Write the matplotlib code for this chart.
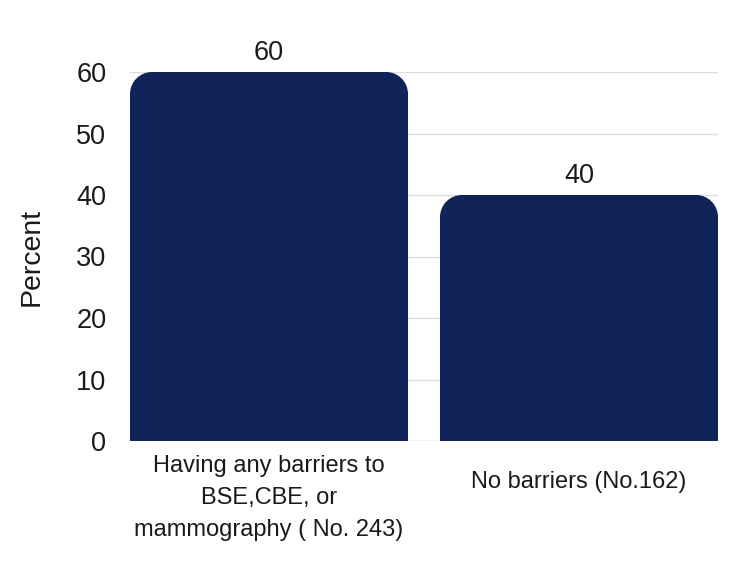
import matplotlib
matplotlib.use("Agg")
import matplotlib.pyplot as plt
from matplotlib.path import Path
from matplotlib.patches import PathPatch

categories = ["Having any barriers to\nBSE,CBE, or\nmammography ( No. 243)", "No barriers (No.162)"]
values = [60, 40]
yticks = [0, 10, 20, 30, 40, 50, 60]

plt.rcParams['font.family'] = ['Liberation Sans', 'DejaVu Sans']
color = '#10245a'
txt = '#1a1a1a'

fig = plt.figure(figsize=(7.5, 5.66), dpi=100)
ax = fig.add_axes([130/750, 1-441/566, (718-130)/750, (441-72)/566])
width = 278/310
ax.set_xlim(-width/2, len(values)-1+width/2)
ax.set_ylim(0, 60)

bars = ax.bar(range(len(values)), values, width=width, color=color, zorder=2)
fig.canvas.draw()
rpx = 22
(x0p, y0p), (x1p, y1p) = ax.transData.transform([(0, 0), (1, 1)])
rx = rpx / (x1p - x0p)
ry = rpx / (y1p - y0p)
k = 0.5523
for b in bars:
    x, y, w, h = b.get_x(), b.get_y(), b.get_width(), b.get_height()
    top = y + h
    verts = [(x, y), (x, top - ry),
             (x, top - ry + k*ry), (x + rx - k*rx, top), (x + rx, top),
             (x + w - rx, top),
             (x + w - rx + k*rx, top), (x + w, top - ry + k*ry), (x + w, top - ry),
             (x + w, y), (x, y)]
    codes = [Path.MOVETO, Path.LINETO,
             Path.CURVE4, Path.CURVE4, Path.CURVE4,
             Path.LINETO,
             Path.CURVE4, Path.CURVE4, Path.CURVE4,
             Path.LINETO, Path.CLOSEPOLY]
    b.set_visible(False)
    ax.add_patch(PathPatch(Path(verts, codes), facecolor=color, edgecolor='none', zorder=2))
    ax.text(b.get_x() + w/2, top + 0.9, f"{int(h)}", ha='center', va='bottom', fontsize=19.5, color=txt)

ax.set_yticks(yticks)
ax.set_yticklabels([str(t) for t in yticks], fontsize=19.5, color=txt)
ax.tick_params(axis='y', length=0, pad=17)
ax.set_xticks([])
ax.grid(axis='y', color='#dcdcdc', linewidth=1, zorder=0)
ax.axhline(0, color='#c8c8c8', linewidth=1, zorder=1)
for s in ax.spines.values():
    s.set_visible(False)
ax.set_ylabel("Percent", fontsize=20.5, color=txt, labelpad=23)

label_y = [-0.038, -0.081]
for i, lab in enumerate(categories):
    ax.text(i, label_y[i], lab, transform=ax.get_xaxis_transform(), ha='center', va='top',
            fontsize=17, color=txt, linespacing=1.6)

fig.savefig("out.png", dpi=100)
